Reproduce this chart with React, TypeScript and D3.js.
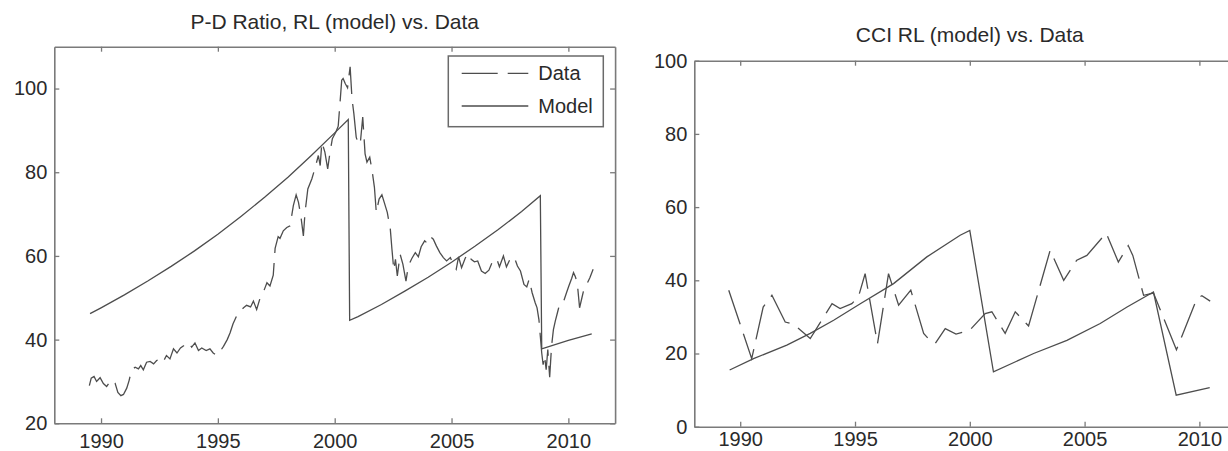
import React, { useEffect, useRef } from 'react';
import * as d3 from 'd3';

const W = 1228;
const H = 451;
const FONT = '"Liberation Sans", Arial, Helvetica, sans-serif';
const AXIS = '#7a7a7a';
const INK = '#2a2a2a';
const LINE = '#4d4d4d';

const xTicks = [1990, 1995, 2000, 2005, 2010];
const pdTicks = [20, 40, 60, 80, 100];
const cciTicks = [0, 20, 40, 60, 80, 100];
const legendLabels = ['Data', 'Model'];

// P-D ratio, data (monthly-ish), [year, value]
const pdData = [
  [1989.5, 29.0], [1989.58, 30.8], [1989.7, 31.2], [1989.81, 30.0], [1989.96, 30.9],
  [1990.1, 29.5], [1990.24, 28.8], [1990.45, 30.4], [1990.6, 29.6], [1990.72, 27.4],
  [1990.85, 26.6], [1990.96, 26.9], [1991.1, 28.4], [1991.2, 30.2], [1991.31, 32.8],
  [1991.46, 33.4], [1991.6, 33.0], [1991.7, 33.8], [1991.81, 32.8], [1991.95, 34.6],
  [1992.1, 34.8], [1992.25, 34.2], [1992.38, 35.0], [1992.52, 35.4], [1992.65, 34.6],
  [1992.8, 36.2], [1992.95, 35.4], [1993.1, 37.8], [1993.25, 36.8], [1993.4, 38.0],
  [1993.55, 38.6], [1993.74, 39.4], [1993.88, 38.2], [1994.02, 39.2], [1994.17, 37.4],
  [1994.31, 38.0], [1994.5, 37.4], [1994.66, 37.8], [1994.8, 36.8], [1994.95, 36.2],
  [1995.1, 37.2], [1995.24, 38.4], [1995.4, 40.0], [1995.52, 41.6], [1995.65, 43.8],
  [1995.8, 45.6], [1995.95, 46.8], [1996.1, 47.6], [1996.23, 48.2], [1996.4, 47.8],
  [1996.52, 49.2], [1996.66, 47.2], [1996.8, 49.8], [1996.95, 51.4], [1997.1, 53.6],
  [1997.23, 52.8], [1997.37, 55.4], [1997.45, 61.8], [1997.58, 64.6], [1997.66, 64.2],
  [1997.8, 66.0], [1997.95, 66.8], [1998.09, 67.2], [1998.23, 72.0], [1998.35, 74.6],
  [1998.45, 72.8], [1998.55, 69.6], [1998.66, 64.8], [1998.73, 70.4], [1998.85, 76.0],
  [1999.02, 78.4], [1999.15, 80.8], [1999.3, 84.0], [1999.38, 81.6], [1999.45, 87.2],
  [1999.58, 84.8], [1999.7, 80.8], [1999.8, 84.8], [1999.9, 88.0], [2000.05, 89.6],
  [2000.15, 91.0], [2000.23, 96.8], [2000.3, 102.0], [2000.36, 102.4], [2000.45, 101.2],
  [2000.55, 100.2], [2000.66, 105.2], [2000.74, 97.6], [2000.82, 94.0], [2000.92, 88.4],
  [2001.02, 86.6], [2001.1, 87.2], [2001.2, 93.2], [2001.3, 84.4], [2001.38, 82.4],
  [2001.5, 83.6], [2001.6, 80.4], [2001.7, 76.4], [2001.78, 70.4], [2001.9, 73.6],
  [2002.02, 74.6], [2002.12, 72.8], [2002.25, 70.4], [2002.38, 66.4], [2002.45, 61.6],
  [2002.53, 56.6], [2002.6, 59.2], [2002.68, 55.2], [2002.8, 60.4], [2002.92, 58.0],
  [2003.05, 54.0], [2003.15, 57.6], [2003.3, 59.4], [2003.45, 60.8], [2003.58, 59.8],
  [2003.7, 62.2], [2003.85, 63.6], [2003.97, 63.0], [2004.1, 64.6], [2004.22, 64.0],
  [2004.35, 62.4], [2004.5, 60.8], [2004.65, 59.6], [2004.79, 58.8], [2004.95, 59.6],
  [2005.08, 57.8], [2005.2, 56.8], [2005.3, 59.8], [2005.43, 57.2], [2005.58, 59.4],
  [2005.7, 60.6], [2005.84, 59.2], [2005.98, 58.6], [2006.12, 58.8], [2006.28, 56.4],
  [2006.44, 55.8], [2006.6, 56.6], [2006.75, 58.6], [2006.93, 59.4], [2007.05, 57.4],
  [2007.22, 60.0], [2007.35, 57.4], [2007.52, 59.4], [2007.68, 59.8], [2007.82, 57.6],
  [2007.95, 56.4], [2008.1, 53.2], [2008.22, 52.6], [2008.32, 54.4], [2008.45, 51.2],
  [2008.58, 48.8], [2008.66, 47.6], [2008.74, 44.8], [2008.8, 40.8], [2008.86, 36.8],
  [2008.92, 34.0], [2008.98, 36.2], [2009.05, 32.8], [2009.12, 37.6], [2009.2, 31.0],
  [2009.28, 38.4], [2009.36, 42.4], [2009.44, 44.4], [2009.54, 46.6], [2009.64, 48.8],
  [2009.8, 49.2], [2009.92, 51.2], [2010.02, 52.8], [2010.14, 54.6], [2010.22, 56.0],
  [2010.3, 55.0], [2010.38, 53.6], [2010.48, 47.6], [2010.58, 50.0], [2010.68, 52.4],
  [2010.8, 53.4], [2010.92, 54.8], [2011.06, 56.8],
];

// P-D ratio, RL model
const pdModel = [
  [1989.53, 46.2], [1990, 47.6], [1991, 50.7], [1992, 54.0], [1993, 57.5], [1994, 61.2],
  [1995, 65.2], [1996, 69.5], [1997, 74.0], [1998, 78.8], [1999, 84.0], [2000, 89.4],
  [2000.58, 92.6], [2000.64, 44.6], [2001, 45.5], [2002, 48.4], [2003, 51.6], [2004, 54.9],
  [2005, 58.5], [2006, 62.3], [2007, 66.3], [2008, 70.6], [2008.8, 74.4], [2008.86, 37.8],
  [2010, 39.8], [2011, 41.4],
];

// CCI data
const cciData = [
  [1989.5, 37.3], [1990.5, 18.6], [1991.0, 32.7], [1991.38, 35.9], [1991.96, 28.6],
  [1992.32, 28.0], [1993.05, 24.1], [1994.0, 33.6], [1994.35, 32.3], [1994.86, 33.6],
  [1995.15, 35.5], [1995.44, 41.8], [1995.98, 22.7], [1996.46, 41.8], [1996.9, 33.2],
  [1997.43, 37.3], [1997.99, 25.5], [1998.2, 24.0], [1998.49, 22.7], [1998.93, 26.8],
  [1999.4, 25.3], [2000.0, 26.4], [2000.67, 30.9], [2000.96, 31.4], [2001.54, 25.5],
  [2001.98, 31.4], [2002.56, 27.5], [2003.5, 48.2], [2004.09, 40.0], [2004.66, 45.5],
  [2005.1, 46.8], [2005.94, 52.9], [2006.47, 45.0], [2006.9, 49.5], [2007.1, 46.8],
  [2007.57, 35.9], [2008.0, 36.5], [2009.0, 21.0], [2009.89, 35.0], [2010.11, 35.8],
  [2010.47, 34.3],
];

// CCI RL model
const cciModel = [
  [1989.54, 15.5], [1990.58, 18.6], [1992.03, 22.3], [1993.05, 25.5], [1994.07, 29.1],
  [1995.23, 33.6], [1996.68, 39.1], [1998.13, 46.4], [1999.58, 52.3], [2000.0, 53.6],
  [2001.03, 15.0], [2002.78, 20.0], [2004.23, 23.6], [2005.68, 28.2], [2006.85, 32.7],
  [2008.0, 36.8], [2008.99, 8.6], [2010.45, 10.7],
];

const drawPanel = (svg, p) => {
  const x = d3.scaleLinear().domain([1988, 2012]).range(p.xRange);
  const y = d3.scaleLinear().domain(p.yDomain).range(p.yRange);
  const [x0, x1] = p.xRange;
  const [y0, y1] = p.yRange;

  const g = svg.append('g');

  // 坐标轴 (ticks inward, box on all sides)
  const styleAxis = (a) => {
    a.attr('font-family', FONT).attr('font-size', 20);
    a.select('.domain').attr('stroke', AXIS).attr('stroke-width', 1.6);
    a.selectAll('.tick line').attr('stroke', AXIS).attr('stroke-width', 1.3);
    a.selectAll('.tick text').attr('fill', INK);
  };

  g.append('g')
    .attr('transform', `translate(0, ${y0})`)
    .call(d3.axisBottom(x).tickValues(xTicks).tickSizeInner(-5).tickSizeOuter(0).tickPadding(p.xPad).tickFormat(d3.format('d')))
    .call(styleAxis);
  g.append('g')
    .attr('transform', `translate(0, ${y1})`)
    .call(d3.axisTop(x).tickValues(xTicks).tickSizeInner(-5).tickSizeOuter(0).tickFormat(() => ''))
    .call(styleAxis);
  g.append('g')
    .attr('transform', `translate(${x0}, 0)`)
    .call(d3.axisLeft(y).tickValues(p.yTicks).tickSizeInner(-5).tickSizeOuter(0).tickPadding(7))
    .call(styleAxis);
  g.append('g')
    .attr('transform', `translate(${x1}, 0)`)
    .call(d3.axisRight(y).tickValues(p.yTicks).tickSizeInner(-5).tickSizeOuter(0).tickFormat(() => ''))
    .call(styleAxis);

  // 标题
  g.append('text')
    .attr('x', (x0 + x1) / 2)
    .attr('y', p.titleY)
    .attr('text-anchor', 'middle')
    .attr('font-family', FONT)
    .attr('font-size', 21)
    .attr('fill', INK)
    .text(p.title);

  const line = d3.line().x(d => x(d[0])).y(d => y(d[1]));

  g.append('path')
    .datum(p.model)
    .attr('fill', 'none')
    .attr('stroke', LINE)
    .attr('stroke-width', 1.3)
    .attr('d', line);

  g.append('path')
    .datum(p.data)
    .attr('fill', 'none')
    .attr('stroke', LINE)
    .attr('stroke-width', 1.3)
    .attr('stroke-dasharray', '36,10')
    .attr('d', line);

  return g;
};

const App = () => {
  const ref = useRef(null);

  useEffect(() => {
    const svg = d3.select(ref.current);
    svg.selectAll('*').remove();

    svg.append('rect').attr('width', W).attr('height', H).attr('fill', '#fff');

    drawPanel(svg, {
      title: 'P-D Ratio, RL (model) vs. Data',
      titleY: 28.5,
      xRange: [54.3, 615.1],
      yDomain: [20, 110],
      yRange: [423.3, 46.7],
      yTicks: pdTicks,
      xPad: 10.5,
      data: pdData,
      model: pdModel,
    });

    drawPanel(svg, {
      title: 'CCI RL (model) vs. Data',
      titleY: 41.5,
      xRange: [694.3, 1245.3],
      yDomain: [0, 100],
      yRange: [426.7, 60.7],
      yTicks: cciTicks,
      xPad: 5.5,
      data: cciData,
      model: cciModel,
    });

    // 图例
    const lg = svg.append('g');
    lg.append('rect')
      .attr('x', 448.3).attr('y', 56)
      .attr('width', 155).attr('height', 70.7)
      .attr('fill', '#fff')
      .attr('stroke', '#6a6a6a')
      .attr('stroke-width', 1.5);
    legendLabels.forEach((label, i) => {
      const ly = 73.3 + i * 32.7;
      lg.append('line')
        .attr('x1', 461.7).attr('x2', 528.3)
        .attr('y1', ly).attr('y2', ly)
        .attr('stroke', LINE)
        .attr('stroke-width', 1.3)
        .attr('stroke-dasharray', i === 0 ? '36,10' : null);
      lg.append('text')
        .attr('x', 538.3).attr('y', ly)
        .attr('dy', '0.35em')
        .attr('font-family', FONT)
        .attr('font-size', 20)
        .attr('fill', INK)
        .text(label);
    });
  }, []);

  return (
    <svg
      ref={ref}
      width={W}
      height={H}
      style={{ position: 'absolute', left: 0, top: 0, display: 'block' }}
    />
  );
};

export default App;
